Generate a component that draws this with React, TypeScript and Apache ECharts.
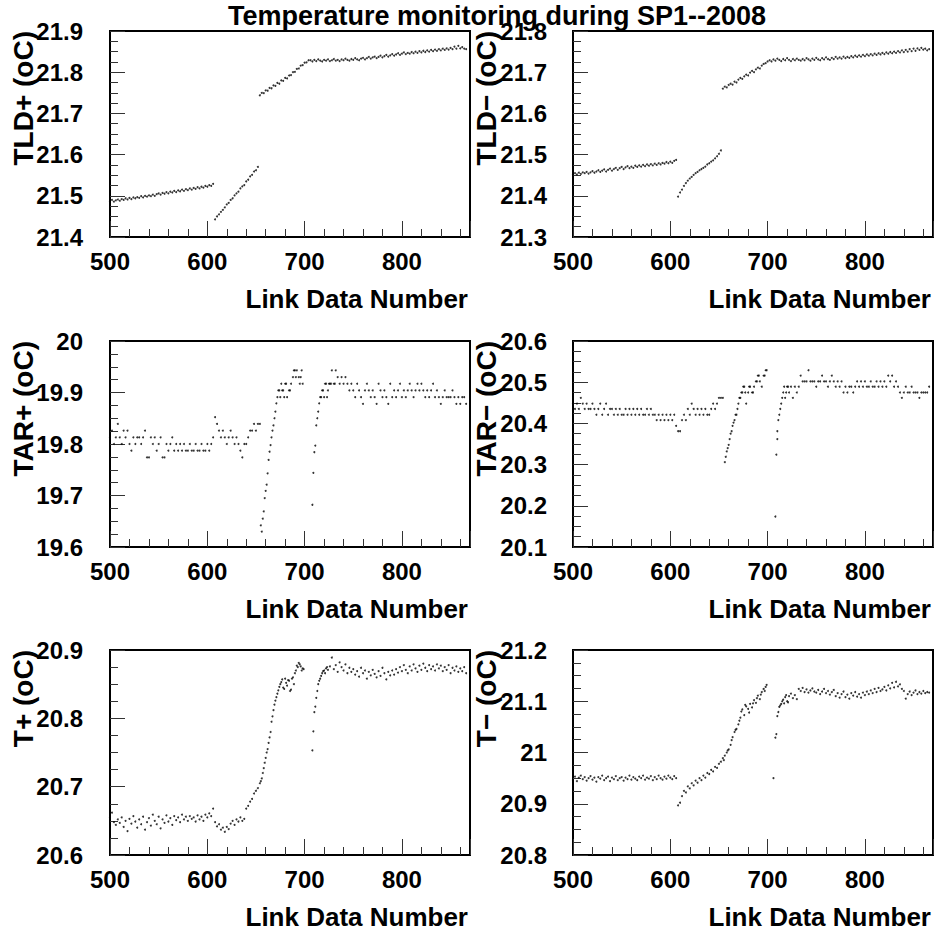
import React, { useEffect, useRef } from "react";
import * as echarts from "echarts";

// ---------- data ----------
const linkStart = 500; // first Link Data Number of the value arrays
const linkStep = 2; // spacing of Link Data Numbers in the value arrays
const xMin = 500;
const xMax = 870;
const xMajorTicks = [500, 600, 700, 800];
const chartTitle = "Temperature monitoring during SP1--2008";
const xTitle = "Link Data Number";

const tldPlus: (number | null)[] = [
  21.485, 21.490, 21.486, 21.489, 21.491, 21.488, 21.492, 21.490, 21.494, 21.491,
  21.495, 21.492, 21.496, 21.494, 21.497, 21.495, 21.499, 21.496, 21.500, 21.498,
  21.501, 21.499, 21.503, 21.500, 21.504, 21.506, 21.503, 21.507, 21.505, 21.509,
  21.506, 21.510, 21.508, 21.512, 21.509, 21.513, 21.511, 21.515, 21.512, 21.516,
  21.514, 21.518, 21.515, 21.519, 21.517, 21.521, 21.518, 21.522, 21.520, 21.524,
  21.522, 21.526, 21.524, 21.529,
  21.443, 21.450, 21.455, 21.461, 21.466, 21.472, 21.479, 21.483, 21.490, 21.494,
  21.501, 21.506, 21.510, 21.518, 21.523, 21.526, 21.535, 21.539, 21.547, 21.551,
  21.559, 21.562, 21.570,
  21.744, 21.750, 21.749, 21.756, 21.755, 21.762, 21.761, 21.768, 21.767, 21.774,
  21.772, 21.780, 21.779, 21.786, 21.785, 21.792, 21.793, 21.800, 21.801, 21.808,
  21.809, 21.816, 21.817, 21.823, 21.824, 21.829,
  21.829, 21.826, 21.830, 21.827, 21.831, 21.828, 21.826, 21.830, 21.828, 21.831,
  21.827, 21.829, 21.832, 21.828, 21.830, 21.827, 21.831, 21.829, 21.833, 21.830,
  21.828, 21.832, 21.830, 21.834, 21.831, 21.829, 21.833, 21.835, 21.831, 21.834,
  21.837, 21.833, 21.836, 21.838, 21.834, 21.837, 21.840, 21.836, 21.839, 21.842,
  21.838, 21.841, 21.844, 21.840, 21.843, 21.846, 21.842, 21.845, 21.848, 21.844,
  21.847, 21.845, 21.849, 21.846, 21.850, 21.847, 21.851, 21.848, 21.852, 21.849,
  21.853, 21.850, 21.854, 21.851, 21.855, 21.852, 21.856, 21.853, 21.857, 21.854,
  21.858, 21.855, 21.859, 21.856, 21.862, 21.857, 21.864, 21.858, 21.861, 21.857,
  21.856,
];

const tldMinus: (number | null)[] = [
  21.451, 21.455, 21.452, 21.456, 21.453, 21.457, 21.455, 21.458, 21.454, 21.457,
  21.460, 21.456, 21.459, 21.462, 21.458, 21.461, 21.464, 21.459, 21.463, 21.466,
  21.461, 21.465, 21.468, 21.463, 21.467, 21.470, 21.465, 21.469, 21.472, 21.467,
  21.471, 21.468, 21.473, 21.470, 21.474, 21.471, 21.475, 21.472, 21.476, 21.473,
  21.477, 21.474, 21.478, 21.475, 21.479, 21.476, 21.480, 21.478, 21.482, 21.479,
  21.483, 21.480, 21.485, 21.487,
  21.398, 21.408, 21.415, 21.424, 21.431, 21.437, 21.442, 21.446, 21.451, 21.455,
  21.458, 21.462, 21.465, 21.468, 21.471, 21.476, 21.479, 21.483, 21.486, 21.491,
  21.496, 21.502, 21.510,
  21.660, 21.665, 21.663, 21.669, 21.672, 21.670, 21.677, 21.675, 21.682, 21.686,
  21.684, 21.690, 21.694, 21.692, 21.699, 21.703, 21.700, 21.707, 21.711, 21.709,
  21.716, 21.720, 21.722, 21.726, 21.729, 21.726,
  21.731, 21.728, 21.733, 21.730, 21.727, 21.732, 21.729, 21.734, 21.730, 21.727,
  21.732, 21.729, 21.733, 21.730, 21.728, 21.732, 21.729, 21.734, 21.731, 21.728,
  21.733, 21.730, 21.735, 21.731, 21.729, 21.734, 21.731, 21.736, 21.732, 21.730,
  21.735, 21.732, 21.737, 21.733, 21.736, 21.733, 21.738, 21.734, 21.737, 21.735,
  21.739, 21.736, 21.740, 21.737, 21.741, 21.738, 21.742, 21.739, 21.743, 21.740,
  21.744, 21.741, 21.745, 21.742, 21.746, 21.743, 21.747, 21.744, 21.748, 21.745,
  21.749, 21.746, 21.750, 21.747, 21.751, 21.748, 21.753, 21.749, 21.754, 21.750,
  21.756, 21.751, 21.757, 21.752, 21.758, 21.754, 21.759, 21.755, 21.757, 21.753,
  21.756,
];

const tarPlus: (number | null)[] = [
  19.813, 19.826, 19.800, 19.813, 19.839, 19.813, 19.800, 19.826, 19.813, 19.826,
  19.800, 19.787, 19.813, 19.800, 19.813, 19.813, 19.800, 19.813, 19.826, 19.774,
  19.774, 19.813, 19.800, 19.813, 19.787, 19.800, 19.813, 19.774, 19.774, 19.800,
  19.787, 19.800, 19.813, 19.787, 19.800, 19.787, 19.800, 19.787, 19.800, 19.787,
  19.787, 19.800, 19.787, 19.787, 19.800, 19.787, 19.787, 19.800, 19.787, 19.787,
  19.800, 19.787, 19.800, 19.813,
  19.852, 19.839, 19.826, 19.813, 19.826, 19.813, 19.800, 19.813, 19.826, 19.813,
  19.800, 19.813, 19.800, 19.787, 19.774, 19.800, 19.800, 19.813, 19.826, 19.826,
  19.839, 19.826, 19.839,
  19.839, 19.630, 19.669, 19.709, 19.743, 19.785, 19.813, 19.836, 19.863, 19.891,
  19.904, 19.917, 19.904, 19.917, 19.891, 19.904, 19.917, 19.930, 19.943, 19.943,
  19.930, 19.930, 19.917,
  null, null, null, null,
  19.682, 19.784, 19.836, 19.863, 19.891, 19.904, 19.891, 19.917, 19.904, 19.917,
  19.943, 19.917, 19.943, 19.930, 19.917, 19.930, 19.917, 19.930, 19.917, 19.904,
  19.917,
  19.904, 19.891, 19.917, 19.904, 19.891, 19.878, 19.904, 19.917, 19.904, 19.891,
  19.904, 19.891, 19.878, 19.917, 19.904, 19.891, 19.904, 19.891, 19.878, 19.917,
  19.891, 19.904, 19.891, 19.904, 19.917, 19.891, 19.904, 19.891, 19.904, 19.917,
  19.904, 19.891, 19.904, 19.917, 19.904, 19.917, 19.904, 19.891, 19.904, 19.891,
  19.904, 19.917, 19.891, 19.904, 19.891, 19.878, 19.891, 19.904, 19.891, 19.891,
  19.891, 19.904, 19.891, 19.878, 19.891, 19.878, 19.891, 19.891, 19.878,
];
const tarPlusExtra: [number, number][] = [
  [655, 19.642], [657, 19.655], [659, 19.695], [661, 19.721], [663, 19.769],
  [665, 19.798], [667, 19.826], [669, 19.850], [671, 19.879], [673, 19.904],
  [675, 19.891], [677, 19.904], [679, 19.891], [681, 19.917], [685, 19.904],
  [689, 19.943], [691, 19.930], [695, 19.917], [697, 19.943],
  [709, 19.744], [711, 19.797], [713, 19.850], [715, 19.879], [717, 19.891],
  [719, 19.904], [721, 19.917], [723, 19.891], [725, 19.917], [727, 19.917], [731, 19.917],
];

const tarMinus: (number | null)[] = [
  20.448, 20.435, 20.448, 20.435, 20.462, 20.448, 20.435, 20.448, 20.435, 20.435,
  20.448, 20.435, 20.421, 20.435, 20.448, 20.421, 20.435, 20.448, 20.421, 20.435,
  20.435, 20.421, 20.435, 20.421, 20.435, 20.421, 20.421, 20.435, 20.421, 20.435,
  20.421, 20.435, 20.421, 20.435, 20.421, 20.435, 20.421, 20.421, 20.435, 20.421,
  20.435, 20.421, 20.421, 20.408, 20.421, 20.408, 20.421, 20.408, 20.421, 20.408,
  20.421, 20.408, 20.421, 20.394,
  20.381, 20.381, 20.408, 20.421, 20.408, 20.435, 20.421, 20.448, 20.435, 20.421,
  20.435, 20.421, 20.435, 20.421, 20.435, 20.421, 20.421, 20.435, 20.448, 20.435,
  20.448, 20.462, 20.462,
  20.462, 20.306, 20.332, 20.348, 20.375, 20.394, 20.408, 20.421, 20.448, 20.462,
  20.475, 20.489, 20.448, 20.475, 20.489, 20.475, 20.489, 20.502, 20.516, 20.502,
  20.489, 20.516, 20.529,
  null, null, null, null,
  20.174, 20.381, 20.421, 20.448, 20.475, 20.462, 20.489, 20.475, 20.489, 20.462,
  20.489, 20.475, 20.489, 20.516, 20.502, 20.502, 20.502, 20.529, 20.502, 20.502,
  20.502,
  20.489, 20.502, 20.502, 20.516, 20.502, 20.502, 20.489, 20.502, 20.516, 20.502,
  20.489, 20.502, 20.489, 20.502, 20.475, 20.489, 20.475, 20.489, 20.489, 20.475,
  20.489, 20.502, 20.489, 20.502, 20.489, 20.502, 20.489, 20.489, 20.502, 20.489,
  20.489, 20.502, 20.489, 20.502, 20.489, 20.502, 20.489, 20.516, 20.502, 20.516,
  20.489, 20.502, 20.489, 20.475, 20.462, 20.475, 20.489, 20.475, 20.475, 20.489,
  20.475, 20.475, 20.475, 20.462, 20.475, 20.475, 20.475, 20.475, 20.489,
];
const tarMinusExtra: [number, number][] = [
  [657, 20.319], [659, 20.340], [661, 20.362], [663, 20.381], [665, 20.402],
  [667, 20.421], [669, 20.435], [671, 20.462], [673, 20.475], [675, 20.489],
  [677, 20.475], [681, 20.489], [685, 20.475], [689, 20.502], [691, 20.516],
  [697, 20.516], [699, 20.529],
  [709, 20.324], [710, 20.362], [711, 20.408], [713, 20.435], [715, 20.462],
  [717, 20.489], [719, 20.475], [721, 20.489],
];

const tPlus: (number | null)[] = [
  20.655, 20.662, 20.648, 20.644, 20.652, 20.647, 20.655, 20.641, 20.650, 20.635,
  20.653, 20.646, 20.657, 20.649, 20.640, 20.652, 20.645, 20.656, 20.637, 20.648,
  20.654, 20.643, 20.659, 20.650, 20.645, 20.656, 20.639, 20.652, 20.647, 20.658,
  20.649, 20.654, 20.644, 20.657, 20.651, 20.655, 20.648, 20.659, 20.652, 20.656,
  20.650, 20.657, 20.653, 20.655, 20.649, 20.658, 20.652, 20.656, 20.650, 20.659,
  20.655, 20.661, 20.657, 20.668,
  20.648, 20.642, 20.645, 20.637, 20.640, 20.634, 20.641, 20.638, 20.646, 20.650,
  20.644, 20.652, 20.649, 20.655, 20.650, 20.653, 20.668, 20.672, 20.678, 20.682,
  20.690, 20.694, 20.698,
  20.705, 20.712, 20.727, 20.742, 20.755, 20.772, 20.795, 20.812, 20.826, 20.836,
  20.846, 20.853, 20.845, 20.858, 20.848, 20.855, 20.842, 20.860, 20.866, 20.877,
  20.881, 20.876, 20.873,
  null, null, null, null,
  20.753, 20.809, 20.830, 20.850, 20.858, 20.866, 20.870, 20.873, 20.871, 20.876,
  20.889, 20.872, 20.878, 20.868, 20.882, 20.875, 20.870, 20.879, 20.866, 20.874,
  20.868,
  20.872, 20.864, 20.869, 20.861, 20.874, 20.866, 20.870, 20.858, 20.868, 20.863,
  20.871, 20.865, 20.860, 20.869, 20.862, 20.874, 20.866, 20.857, 20.868, 20.863,
  20.870, 20.864, 20.872, 20.867, 20.875, 20.869, 20.878, 20.871, 20.866, 20.876,
  20.870, 20.879, 20.873, 20.868, 20.877, 20.871, 20.880, 20.874, 20.869, 20.878,
  20.872, 20.876, 20.870, 20.879, 20.873, 20.877, 20.869, 20.875, 20.871, 20.878,
  20.866, 20.874, 20.870, 20.876, 20.868, 20.873, 20.869, 20.875, 20.866,
];
const tPlusExtra: [number, number][] = [
  [655, 20.708], [657, 20.720], [659, 20.735], [661, 20.750], [663, 20.764],
  [665, 20.780], [667, 20.803], [669, 20.820], [671, 20.831], [673, 20.841],
  [675, 20.850], [677, 20.857], [679, 20.843], [681, 20.852], [683, 20.856],
  [685, 20.840], [687, 20.858], [689, 20.850], [691, 20.870], [693, 20.875],
  [695, 20.879], [697, 20.870], [699, 20.872],
  [709, 20.781], [711, 20.817], [713, 20.840], [715, 20.855], [717, 20.862],
  [719, 20.869], [721, 20.866], [723, 20.875],
];

const tMinus: (number | null)[] = [
  20.946, 20.953, 20.944, 20.951, 20.955, 20.948, 20.952, 20.945, 20.950, 20.954,
  20.947, 20.951, 20.943, 20.952, 20.949, 20.955, 20.946, 20.950, 20.953, 20.944,
  20.951, 20.948, 20.954, 20.946, 20.950, 20.952, 20.945, 20.951, 20.948, 20.955,
  20.947, 20.952, 20.949, 20.946, 20.953, 20.950, 20.955, 20.947, 20.951, 20.949,
  20.954, 20.946, 20.952, 20.948, 20.955, 20.950, 20.947, 20.953, 20.949, 20.955,
  20.951, 20.948, 20.954, 20.950,
  20.897, 20.902, 20.915, 20.925, 20.922, 20.934, 20.930, 20.940, 20.936, 20.945,
  20.941, 20.950, 20.946, 20.955, 20.951, 20.960, 20.958, 20.966, 20.963, 20.972,
  20.970, 20.978, 20.982,
  20.989, 20.994, 21.000, 21.006, 21.015, 21.030, 21.040, 21.046, 21.055, 21.068,
  21.084, 21.073, 21.090, 21.085, 21.095, 21.088, 21.102, 21.097, 21.111, 21.104,
  21.118, 21.124, 21.128,
  null, null, null, 20.950,
  21.029, 21.071, 21.089, 21.095, 21.103, 21.108, 21.100, 21.110, 21.115, 21.106,
  21.112, 21.104, 21.124, 21.120, 21.126, 21.118, 21.123, 21.117, 21.121, 21.125,
  21.119,
  21.117, 21.122, 21.114, 21.119, 21.124, 21.116, 21.120, 21.113, 21.118, 21.122,
  21.110, 21.116, 21.107, 21.114, 21.119, 21.108, 21.113, 21.105, 21.116, 21.111,
  21.118, 21.109, 21.114, 21.107, 21.117, 21.112, 21.119, 21.114, 21.121, 21.116,
  21.124, 21.118, 21.126, 21.120, 21.123, 21.128, 21.121, 21.131, 21.125, 21.136,
  21.127, 21.138, 21.129, 21.133, 21.124, 21.120, 21.105, 21.114, 21.119, 21.112,
  21.117, 21.121, 21.114, 21.118, 21.115, 21.120, 21.116, 21.118, 21.117,
];
const tMinusExtra: [number, number][] = [
  [655, 20.985], [659, 21.004], [663, 21.024], [667, 21.044], [671, 21.062],
  [673, 21.080], [677, 21.093], [681, 21.078], [685, 21.096], [689, 21.106],
  [693, 21.113], [697, 21.120], [699, 21.132],
  [709, 21.036], [711, 21.079], [713, 21.092], [715, 21.100], [717, 21.096],
  [719, 21.112], [721, 21.098],
];

const panels = [
  { label: "TLD+ (oC)", values: tldPlus, extra: [] as [number, number][], yMin: 21.4, yMax: 21.9 },
  { label: "TLD\u2212 (oC)", values: tldMinus, extra: [] as [number, number][], yMin: 21.3, yMax: 21.8 },
  { label: "TAR+ (oC)", values: tarPlus, extra: tarPlusExtra, yMin: 19.6, yMax: 20.0 },
  { label: "TAR\u2212 (oC)", values: tarMinus, extra: tarMinusExtra, yMin: 20.1, yMax: 20.6 },
  { label: "T+ (oC)", values: tPlus, extra: tPlusExtra, yMin: 20.6, yMax: 20.9 },
  { label: "T\u2212 (oC)", values: tMinus, extra: tMinusExtra, yMin: 20.8, yMax: 21.2 },
];

// ---------- layout ----------
const W = 938;
const H = 935;
const colLeft = [110, 573];
const colWidth = 360;
const rowTop = [31, 341, 650];
const rowHeight = [206, 206, 205];
const FONT = "'Liberation Sans', Arial, Helvetica, sans-serif";
const TICK_COLOR = "#333";

function buildOption() {
  const grids: any[] = [];
  const xAxes: any[] = [];
  const yAxes: any[] = [];
  const series: any[] = [];
  const graphics: any[] = [];

  graphics.push({
    type: "text",
    x: 497,
    y: 16,
    z: 100,
    style: {
      text: chartTitle,
      x: 0,
      y: 0,
      align: "center",
      verticalAlign: "middle",
      font: `bold 27px ${FONT}`,
      fill: "#000",
    },
  });

  panels.forEach((p, i) => {
    const col = i % 2;
    const row = Math.floor(i / 2);
    const left = colLeft[col];
    const top = rowTop[row];
    const height = rowHeight[row];

    grids.push({
      left,
      top,
      width: colWidth,
      height,
      show: true,
      borderColor: "#000",
      borderWidth: 2,
      backgroundColor: "transparent",
      containLabel: false,
    });

    // major x axis (labels + long ticks)
    xAxes.push({
      gridIndex: i,
      type: "value",
      position: "bottom",
      min: xMin,
      max: xMax,
      interval: 100,
      axisLine: { show: false },
      splitLine: { show: false },
      axisTick: { show: true, inside: true, length: 16, lineStyle: { color: TICK_COLOR, width: 1 } },
      axisLabel: {
        show: true,
        margin: 12,
        fontSize: 24,
        fontWeight: "bold",
        fontFamily: FONT,
        color: "#000",
        formatter: (v: number) => (xMajorTicks.indexOf(Math.round(v)) >= 0 ? String(Math.round(v)) : ""),
      },
    });
    // minor x axis (short ticks every 20)
    xAxes.push({
      gridIndex: i,
      type: "value",
      position: "bottom",
      min: xMin,
      max: xMax,
      interval: 20,
      axisLine: { show: false },
      splitLine: { show: false },
      axisLabel: { show: false },
      axisTick: { show: true, inside: true, length: 8, lineStyle: { color: TICK_COLOR, width: 1 } },
    });

    yAxes.push({
      gridIndex: i,
      type: "value",
      min: p.yMin,
      max: p.yMax,
      interval: 0.1,
      axisLine: { show: false },
      splitLine: { show: false },
      axisTick: { show: true, inside: true, length: 15, lineStyle: { color: TICK_COLOR, width: 1 } },
      minorTick: { show: true, splitNumber: 4, length: 8, lineStyle: { color: TICK_COLOR, width: 1 } },
      minorSplitLine: { show: false },
      axisLabel: {
        show: true,
        margin: col === 0 ? 27 : 26,
        fontSize: 24,
        fontWeight: "bold",
        fontFamily: FONT,
        color: "#000",
      },
    });

    const data: [number, number][] = [];
    p.values.forEach((v, k) => {
      if (v !== null) data.push([linkStart + k * linkStep, v]);
    });
    p.extra.forEach((d) => data.push([d[0], d[1]]));

    series.push({
      type: "scatter",
      xAxisIndex: i * 2,
      yAxisIndex: i,
      data,
      symbol: "circle",
      symbolSize: 2,
      itemStyle: { color: "#000" },
      silent: true,
      animation: false,
    });

    // y-axis title (rotated, top aligned with frame)
    graphics.push({
      type: "text",
      x: left - 87,
      y: top,
      rotation: Math.PI / 2,
      z: 100,
      style: {
        text: p.label,
        x: 0,
        y: 0,
        align: "right",
        verticalAlign: "middle",
        font: `bold 28px ${FONT}`,
        fill: "#000",
      },
    });

    // x-axis title (right aligned with frame)
    graphics.push({
      type: "text",
      x: left + colWidth - 2,
      y: top + height + 62,
      z: 100,
      style: {
        text: xTitle,
        x: 0,
        y: 0,
        align: "right",
        verticalAlign: "middle",
        font: `bold 26px ${FONT}`,
        fill: "#000",
      },
    });
  });

  return {
    animation: false,
    backgroundColor: "#fff",
    grid: grids,
    xAxis: xAxes,
    yAxis: yAxes,
    series,
    graphic: graphics,
  };
}

export default function App() {
  const ref = useRef<HTMLDivElement>(null);
  useEffect(() => {
    if (!ref.current) return;
    const chart = echarts.init(ref.current, null, { renderer: "svg" });
    chart.setOption(buildOption());
    return () => {
      chart.dispose();
    };
  }, []);
  return (
    <div
      ref={ref}
      style={{ position: "absolute", left: 0, top: 0, width: W, height: H, background: "#fff" }}
    />
  );
}
